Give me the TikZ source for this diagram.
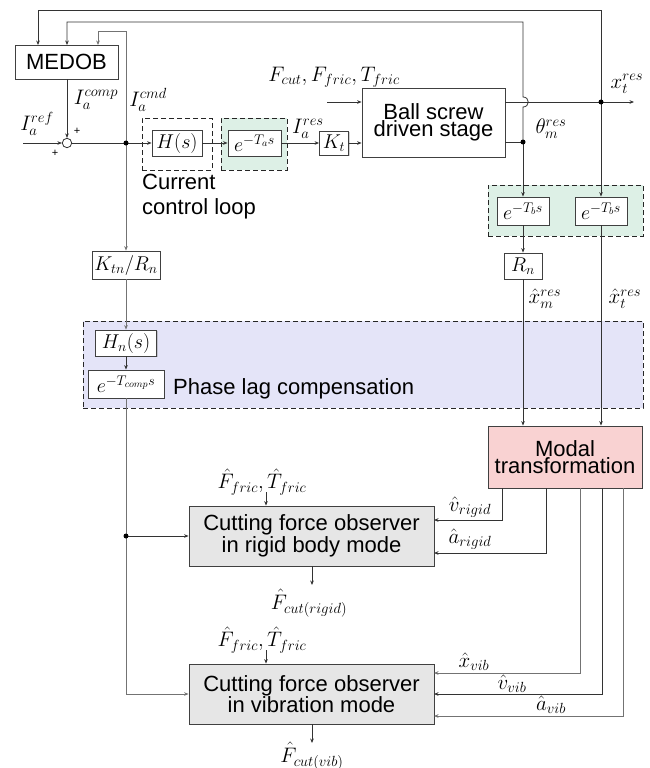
\RequirePackage{fix-cm}
\documentclass[tikz,border=0pt]{standalone}
\usepackage{fontspec}
\setmainfont{Liberation Sans}
\usetikzlibrary{arrows.meta,shadows}

\definecolor{grnfill}{HTML}{DDF0E6}
\definecolor{bluefill}{HTML}{E4E4F8}
\definecolor{pinkfill}{HTML}{F9D2D2}
\definecolor{obsfill}{HTML}{E6E6E6}
\newcommand\txtsz{\fontsize{22}{25}\selectfont}
\newcommand\mathsz{\fontsize{20}{22}\selectfont}
\newcommand\lblsz{\fontsize{21}{23}\selectfont}
\newcommand\tinysz{\fontsize{11}{12}\selectfont}

\begin{document}
\begin{tikzpicture}[x=1pt,y=-1pt,
  sig/.style={draw=black!80, line width=0.8pt},
  sigg/.style={draw=black!55, line width=0.9pt},
  tip/.style={-{Stealth[length=4.5pt,width=3.6pt]}},
  blk/.style={draw=black!75, fill=white, line width=0.8pt, inner sep=0pt,
    drop shadow={shadow xshift=1.2pt, shadow yshift=-1.2pt, opacity=0.35}},
  dashbox/.style={draw=black!85, line width=1pt, dash pattern=on 5pt off 3pt, inner sep=0pt},
  lbl/.style={inner sep=0pt, font=\lblsz},
  dot/.style={circle, fill=black, inner sep=0pt, minimum size=5pt},
]
\useasboundingbox (0,0) rectangle (650,768);

% ---------- grouping frames ----------
\node[dashbox, minimum width=70pt, minimum height=52pt] (ccl) at (177,144) {};
\node[dashbox, fill=grnfill, minimum width=66pt, minimum height=52pt] (gdel) at (254,144) {};
\node[dashbox, fill=grnfill, minimum width=155pt, minimum height=51pt] (gmeas) at (565.5,210.5) {};
\node[dashbox, fill=bluefill, minimum width=560pt, minimum height=87pt] (plc) at (363,364.5) {};

% ---------- blocks ----------
\node[blk, minimum width=103pt, minimum height=34pt] (medob) at (66.5,62) {\txtsz MEDOB};
\node[draw=black!80, line width=0.8pt, circle, fill=white, inner sep=0pt, minimum size=9.4pt] (sum) at (67,143) {};
\node[blk, minimum width=50pt, minimum height=26pt] (hs) at (177,143) {\mathsz $H(s)$};
\node[blk, minimum width=53pt, minimum height=26pt] (ea) at (254.5,143) {\mathsz $e^{-T_a s}$};
\node[blk, minimum width=29pt, minimum height=24pt] (kt) at (334,143) {\mathsz $K_t$};
\node[blk, minimum width=143pt, minimum height=69pt, align=center] (stage) at (433.5,122.5)
  {\txtsz Ball screw\\\txtsz driven stage};
\node[blk, minimum width=52pt, minimum height=28pt] (eb1) at (523,211) {\mathsz $e^{-T_b s}$};
\node[blk, minimum width=52pt, minimum height=28pt] (eb2) at (601,211) {\mathsz $e^{-T_b s}$};
\node[blk, minimum width=38pt, minimum height=26pt] (rn) at (523,266) {\mathsz $R_n$};
\node[blk, minimum width=68pt, minimum height=28pt] (ktn) at (126,265) {\mathsz $K_{tn}/R_n$};
\node[blk, minimum width=61pt, minimum height=26pt] (hn) at (126,343) {\mathsz $H_n(s)$};
\node[blk, minimum width=76pt, minimum height=28pt] (ec) at (126,384) {\mathsz $e^{-T_{comp} s}$};
\node[blk, fill=pinkfill, minimum width=154pt, minimum height=62pt, align=center] (modal) at (565,457)
  {\txtsz Modal\\\txtsz transformation};
\node[blk, fill=obsfill, minimum width=245pt, minimum height=60pt, align=center] (rig) at (311.5,536)
  {\txtsz Cutting force observer\\\txtsz in rigid body mode};
\node[blk, fill=obsfill, minimum width=245pt, minimum height=60pt, align=center] (vib) at (311.5,694)
  {\txtsz Cutting force observer\\\txtsz in vibration mode};

% ---------- branch points and free ends ----------
\coordinate (refin) at (23,143);
\coordinate (jc) at (126,143);
\coordinate (jx) at (601,102);
\coordinate (jth) at (523,142);
\coordinate (xout) at (634,102);
\coordinate (fin) at (327,102);
\coordinate (jo) at (126,536);
\coordinate (m1) at (38,45);
\coordinate (m2) at (67,45);
\coordinate (m3) at (98,45);
\coordinate (mo1) at (502,488);
\coordinate (mo2) at (546,488);
\coordinate (mo3) at (580,488);
\coordinate (mo4) at (602,488);
\coordinate (mo5) at (623,488);
\coordinate (ri1) at (434,520);
\coordinate (ri2) at (434,553);
\coordinate (vi1) at (434,673);
\coordinate (vi2) at (434,694);
\coordinate (vi3) at (434,716);
\coordinate (fr1) at (266,492);
\coordinate (fr2) at (266,650);
\coordinate (co1) at (312,585);
\coordinate (co2) at (312,743);

% ---------- current loop path ----------
\draw[sig,tip] (refin) -- (sum.west);
\draw[sig,tip] (m2 |- medob.south) -- (sum.north);
\draw[sig] (sum.east) -- (jc);
\draw[sig,tip] (jc) -- (hs.west);
\draw[sig,tip] (hs.east) -- (ea.west);
\draw[sig,tip] (ea.east) -- (kt.west);
\draw[sig,tip] (kt.east) -- (kt.east -| stage.west);
\draw[sig,tip] (fin) -- (fin -| stage.west);

% ---------- stage outputs ----------
\draw[sig] (stage.east |- jx) -- (jx);
\draw[sig,tip] (jx) -- (xout);
\draw[sig] (stage.east |- jth) -- (jth);

% ---------- feedback to MEDOB ----------
\draw[sig,tip] (jx) -- (601,10) -- (38,10) -- (m1);
\draw[sig,tip] (jth) -- (523,107) .. controls (530,107) and (530,97) .. (523,97)
  -- (523,22) -- (67,22) -- (m2);
\draw[sigg,tip] (jc) -- (126,31) -- (98,31) -- (m3);

% ---------- measurement path ----------
\draw[sig,tip] (jth) -- (eb1.north);
\draw[sig,tip] (jx) -- (eb2.north);
\draw[sig,tip] (eb1.south) -- (rn.north);
\draw[sig,tip] (rn.south) -- (rn.south |- modal.north);
\draw[sig,tip] (eb2.south) -- (eb2.south |- modal.north);

% ---------- command compensation path ----------
\draw[sigg,tip] (jc) -- (ktn.north);
\draw[sigg,tip] (ktn.south) -- (hn.north);
\draw[sig,tip] (hn.south) -- (ec.north);
\draw[sigg] (ec.south) -- (jo);
\draw[sig,tip] (jo) -- (rig.west);
\draw[sigg,tip] (jo) -- (126,694) -- (vib.west);

% ---------- modal outputs ----------
\draw[sig,tip] (mo1) |- (ri1);
\draw[sig,tip] (mo2) |- (ri2);
\draw[sigg,tip] (mo3) |- (vi1);
\draw[sig,tip] (mo4) |- (vi2);
\draw[sigg,tip] (mo5) |- (vi3);

% ---------- observer inputs / outputs ----------
\draw[sig,tip] (fr1) -- (rig.north -| fr1);
\draw[sig,tip] (fr2) -- (vib.north -| fr2);
\draw[sig,tip] (rig.south -| co1) -- (co1);
\draw[sig,tip] (vib.south -| co2) -- (co2);

% ---------- junction dots ----------
\node[dot] at (jc) {};
\node[dot] at (jx) {};
\node[dot] at (jth) {};
\node[dot] at (jo) {};

% ---------- labels ----------
\node[lbl] (lref) at (37,124) {$I_a^{ref}$};
\node[lbl] (lcomp) at (96,100) {$I_a^{comp}$};
\node[lbl] (lcmd) at (148,100) {$I_a^{cmd}$};
\node[inner sep=0pt, font=\tinysz] (p1) at (77,131) {+};
\node[inner sep=0pt, font=\tinysz] (p2) at (55,153) {+};
\node[inner sep=0pt, anchor=north west, align=left, font=\txtsz] (lccl) at (142,174)
  {Current\\control loop};
\node[lbl] (lres) at (308,129) {$I_a^{res}$};
\node[lbl] (ldist) at (334,77) {$F_{cut},F_{fric},T_{fric}$};
\node[lbl] (lxt) at (627,84) {$x_t^{res}$};
\node[lbl] (lth) at (551,129) {$\theta_m^{res}$};
\node[lbl] (lxm) at (545,299) {$\hat{x}_m^{res}$};
\node[lbl] (lxth) at (625,299) {$\hat{x}_t^{res}$};
\node[inner sep=0pt, anchor=west, font=\txtsz] (lplc) at (173,389) {Phase lag compensation};
\node[lbl] (lfr1) at (262,482) {$\hat{F}_{fric},\hat{T}_{fric}$};
\node[lbl] (lfc1) at (309,603) {$\hat{F}_{cut(rigid)}$};
\node[lbl] (lfr2) at (262,640) {$\hat{F}_{fric},\hat{T}_{fric}$};
\node[lbl] (lfc2) at (312,756) {$\hat{F}_{cut(vib)}$};
\node[lbl] (lvr) at (470,507) {$\hat{v}_{rigid}$};
\node[lbl] (lar) at (470,539) {$\hat{a}_{rigid}$};
\node[lbl] (lxv) at (474,662) {$\hat{x}_{vib}$};
\node[lbl] (lvv) at (512,684) {$\hat{v}_{vib}$};
\node[lbl] (lav) at (551,705) {$\hat{a}_{vib}$};
\end{tikzpicture}
\end{document}
